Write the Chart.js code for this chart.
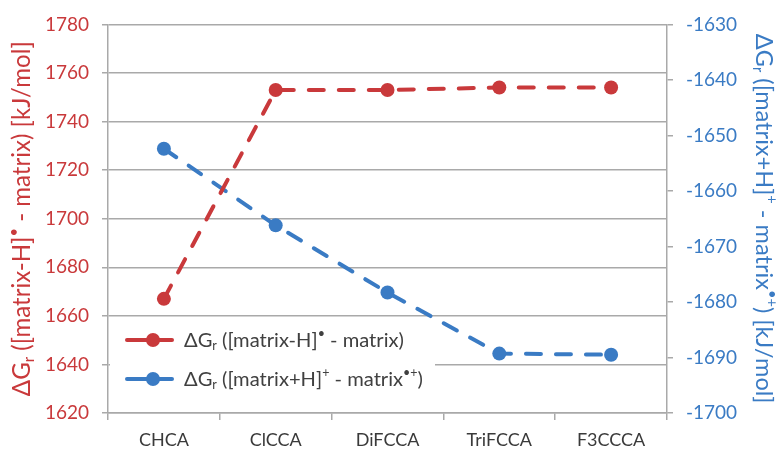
<!DOCTYPE html>
<html>
<head>
<meta charset="utf-8">
<script src="https://cdn.jsdelivr.net/npm/chart.js@4/dist/chart.umd.min.js"></script>
<style>
  body { margin: 0; background: #fff; }
</style>
</head>
<body>
<canvas id="chart" width="778" height="449"></canvas>
<script>
// chart data
const categories = ['CHCA', 'ClCCA', 'DiFCCA', 'TriFCCA', 'F3CCCA'];
const radicalValues = [1667, 1753, 1753, 1754, 1754];
const protonValues = [-1652.4, -1666.2, -1678.3, -1689.3, -1689.5];
const leftAxisRange = [1620, 1780, 20];
const rightAxisRange = [-1700, -1630, 10];

const RED = '#c9393b';
const BLUE = '#3a7bc4';
const GRID = '#a9a9a9';
const FONT = 'Lato';

// rich text pieces (sub / superscripts)
const radicalLabel = [{ t: 'ΔG' }, { t: 'r', sub: true }, { t: ' ([matrix-H]' }, { t: '•', sup: true }, { t: ' - matrix)' }];
const protonLabel = [{ t: 'ΔG' }, { t: 'r', sub: true }, { t: ' ([matrix+H]' }, { t: '+', sup: true }, { t: ' - matrix' }, { t: '•+', sup: true }, { t: ')' }];
const unitLabel = [{ t: ' [kJ/mol]' }];

function segFont(seg, size) {
  return (seg.sub || seg.sup ? size * 0.62 : size) + 'px ' + FONT;
}

function richWidth(ctx, segs, size) {
  let w = 0;
  segs.forEach(s => { ctx.font = segFont(s, size); w += ctx.measureText(s.t).width; });
  return w;
}

function drawRich(ctx, segs, x, y, size, color) {
  ctx.fillStyle = color;
  ctx.textAlign = 'left';
  ctx.textBaseline = 'middle';
  segs.forEach(s => {
    ctx.font = segFont(s, size);
    let dy = 0;
    if (s.sub) dy = size * 0.28;
    if (s.sup) dy = -size * 0.32;
    ctx.fillText(s.t, x, y + dy);
    x += ctx.measureText(s.t).width;
  });
}

// pick a font size so the text spans about the given length
function fitSize(ctx, segs, len) {
  return 20 * len / richWidth(ctx, segs, 20);
}

const extras = {
  id: 'extras',
  beforeDatasetsDraw(chart) {
    const ctx = chart.ctx;
    ctx.save();
    ctx.fillStyle = '#fff';
    ctx.fillRect(110, 320, 325, 82);
    ctx.restore();
  },
  afterDraw(chart) {
    const ctx = chart.ctx;
    ctx.save();
    // legend
    const lsz = Math.min(fitSize(ctx, radicalLabel, 220), 21);
    const items = [
      { ds: chart.data.datasets[0], label: radicalLabel, y: 340 },
      { ds: chart.data.datasets[1], label: protonLabel, y: 379 }
    ];
    items.forEach(it => {
      ctx.strokeStyle = it.ds.borderColor;
      ctx.lineWidth = 4;
      ctx.lineCap = 'round';
      ctx.beginPath();
      ctx.moveTo(127, it.y);
      ctx.lineTo(172, it.y);
      ctx.stroke();
      ctx.fillStyle = it.ds.borderColor;
      ctx.beginPath();
      ctx.arc(153, it.y, 7, 0, Math.PI * 2);
      ctx.fill();
      drawRich(ctx, it.label, 184, it.y, lsz, '#404040');
    });

    // axis titles
    const left = radicalLabel.concat(unitLabel);
    const right = protonLabel.concat(unitLabel);
    const cy = (chart.chartArea.top + chart.chartArea.bottom) / 2;

    const ls = fitSize(ctx, left, 355);
    ctx.save();
    ctx.translate(22, cy);
    ctx.rotate(-Math.PI / 2);
    drawRich(ctx, left, -richWidth(ctx, left, ls) / 2, 0, ls, RED);
    ctx.restore();

    const rs = fitSize(ctx, right, 370);
    ctx.save();
    ctx.translate(764, cy);
    ctx.rotate(Math.PI / 2);
    drawRich(ctx, right, -richWidth(ctx, right, rs) / 2, 0, rs, BLUE);
    ctx.restore();

    ctx.restore();
  }
};

new Chart(document.getElementById('chart'), {
  type: 'line',
  data: {
    labels: categories,
    datasets: [
      {
        label: 'radical',
        data: radicalValues,
        yAxisID: 'y',
        borderColor: RED,
        backgroundColor: RED,
        borderWidth: 4,
        borderDash: [15, 15],
        borderCapStyle: 'round',
        pointRadius: 7,
        pointHoverRadius: 7,
        pointBorderWidth: 0,
        pointBackgroundColor: RED,
        tension: 0
      },
      {
        label: 'proton',
        data: protonValues,
        yAxisID: 'y1',
        borderColor: BLUE,
        backgroundColor: BLUE,
        borderWidth: 4,
        borderDash: [15, 15],
        borderCapStyle: 'round',
        pointRadius: 7,
        pointHoverRadius: 7,
        pointBorderWidth: 0,
        pointBackgroundColor: BLUE,
        tension: 0
      }
    ]
  },
  options: {
    responsive: false,
    animation: false,
    devicePixelRatio: 1,
    layout: { padding: { top: 20, left: 0, right: 0, bottom: 0 } },
    plugins: {
      legend: { display: false },
      tooltip: { enabled: false }
    },
    scales: {
      x: {
        offset: true,
        grid: { offset: true, drawOnChartArea: false, color: GRID, lineWidth: 1.5, tickLength: 7 },
        border: { color: GRID, width: 1.5 },
        ticks: { color: '#3a3a3a', font: { family: FONT, size: 18 }, padding: 9 },
        afterFit: s => { s.height = 36; }
      },
      y: {
        position: 'left',
        min: leftAxisRange[0],
        max: leftAxisRange[1],
        ticks: { stepSize: leftAxisRange[2], color: RED, font: { family: FONT, size: 19 }, padding: 13, callback: v => String(v) },
        grid: { color: GRID, lineWidth: 1.5, tickLength: 6 },
        border: { color: GRID, width: 1.5 },
        afterFit: s => { s.width = 108; }
      },
      y1: {
        position: 'right',
        min: rightAxisRange[0],
        max: rightAxisRange[1],
        ticks: { stepSize: rightAxisRange[2], color: BLUE, font: { family: FONT, size: 19 }, padding: 13, callback: v => String(v) },
        grid: { drawOnChartArea: false, color: GRID, lineWidth: 1.5, tickLength: 6 },
        border: { color: GRID, width: 1.5 },
        afterFit: s => { s.width = 111; }
      }
    }
  },
  plugins: [extras]
});
</script>
</body>
</html>
